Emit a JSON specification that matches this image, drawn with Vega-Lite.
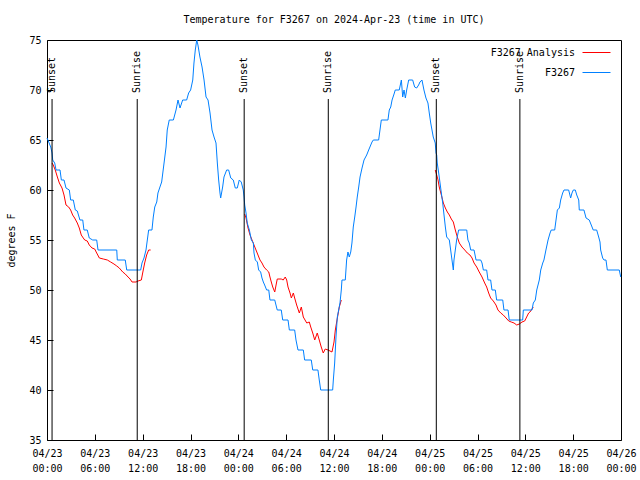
{
  "$schema": "https://vega.github.io/schema/vega-lite/v6.json",
  "width": 574,
  "height": 400,
  "autosize": {"type": "none"},
  "padding": {"left": 47, "top": 40, "right": 19, "bottom": 40},
  "background": "white",
  "title": {"text": "Temperature for F3267 on 2024-Apr-23 (time in UTC)", "font": "DejaVu Sans Mono", "fontSize": 10, "fontWeight": "normal", "color": "black", "anchor": "middle", "offset": 10},
  "config": {
    "view": {"stroke": "black", "strokeWidth": 1},
    "axis": {"domain": false, "grid": false, "labelFont": "DejaVu Sans Mono", "labelFontSize": 10, "labelColor": "black", "tickColor": "black", "titleFont": "DejaVu Sans Mono", "titleFontSize": 10, "titleFontWeight": "normal", "titleColor": "black"},
    "legend": {"labelFont": "DejaVu Sans Mono", "labelFontSize": 10, "labelColor": "black"}
  },
  "datasets": {
    "obs": [
      {"time": "2024-04-23T00:38:00Z", "temp": 62.7, "series": "F3267 Analysis", "run": "a1"},
      {"time": "2024-04-23T00:47:00Z", "temp": 62.5, "series": "F3267 Analysis", "run": "a1"},
      {"time": "2024-04-23T01:02:00Z", "temp": 62.0, "series": "F3267 Analysis", "run": "a1"},
      {"time": "2024-04-23T01:18:00Z", "temp": 61.3, "series": "F3267 Analysis", "run": "a1"},
      {"time": "2024-04-23T01:33:00Z", "temp": 60.7, "series": "F3267 Analysis", "run": "a1"},
      {"time": "2024-04-23T01:53:00Z", "temp": 60.2, "series": "F3267 Analysis", "run": "a1"},
      {"time": "2024-04-23T02:08:00Z", "temp": 59.5, "series": "F3267 Analysis", "run": "a1"},
      {"time": "2024-04-23T02:23:00Z", "temp": 58.5, "series": "F3267 Analysis", "run": "a1"},
      {"time": "2024-04-23T02:43:00Z", "temp": 58.3, "series": "F3267 Analysis", "run": "a1"},
      {"time": "2024-04-23T02:58:00Z", "temp": 58.0, "series": "F3267 Analysis", "run": "a1"},
      {"time": "2024-04-23T03:13:00Z", "temp": 57.5, "series": "F3267 Analysis", "run": "a1"},
      {"time": "2024-04-23T03:28:00Z", "temp": 57.2, "series": "F3267 Analysis", "run": "a1"},
      {"time": "2024-04-23T03:48:00Z", "temp": 56.7, "series": "F3267 Analysis", "run": "a1"},
      {"time": "2024-04-23T04:03:00Z", "temp": 56.2, "series": "F3267 Analysis", "run": "a1"},
      {"time": "2024-04-23T04:18:00Z", "temp": 55.5, "series": "F3267 Analysis", "run": "a1"},
      {"time": "2024-04-23T04:33:00Z", "temp": 55.2, "series": "F3267 Analysis", "run": "a1"},
      {"time": "2024-04-23T04:44:00Z", "temp": 55.0, "series": "F3267 Analysis", "run": "a1"},
      {"time": "2024-04-23T05:03:00Z", "temp": 54.9, "series": "F3267 Analysis", "run": "a1"},
      {"time": "2024-04-23T05:18:00Z", "temp": 54.5, "series": "F3267 Analysis", "run": "a1"},
      {"time": "2024-04-23T05:39:00Z", "temp": 54.2, "series": "F3267 Analysis", "run": "a1"},
      {"time": "2024-04-23T05:59:00Z", "temp": 54.1, "series": "F3267 Analysis", "run": "a1"},
      {"time": "2024-04-23T06:14:00Z", "temp": 53.7, "series": "F3267 Analysis", "run": "a1"},
      {"time": "2024-04-23T06:34:00Z", "temp": 53.2, "series": "F3267 Analysis", "run": "a1"},
      {"time": "2024-04-23T07:04:00Z", "temp": 53.1, "series": "F3267 Analysis", "run": "a1"},
      {"time": "2024-04-23T07:34:00Z", "temp": 53.0, "series": "F3267 Analysis", "run": "a1"},
      {"time": "2024-04-23T07:59:00Z", "temp": 52.8, "series": "F3267 Analysis", "run": "a1"},
      {"time": "2024-04-23T08:24:00Z", "temp": 52.6, "series": "F3267 Analysis", "run": "a1"},
      {"time": "2024-04-23T08:45:00Z", "temp": 52.4, "series": "F3267 Analysis", "run": "a1"},
      {"time": "2024-04-23T09:04:00Z", "temp": 52.2, "series": "F3267 Analysis", "run": "a1"},
      {"time": "2024-04-23T09:30:00Z", "temp": 51.8, "series": "F3267 Analysis", "run": "a1"},
      {"time": "2024-04-23T09:49:00Z", "temp": 51.6, "series": "F3267 Analysis", "run": "a1"},
      {"time": "2024-04-23T10:10:00Z", "temp": 51.3, "series": "F3267 Analysis", "run": "a1"},
      {"time": "2024-04-23T10:25:00Z", "temp": 51.1, "series": "F3267 Analysis", "run": "a1"},
      {"time": "2024-04-23T10:40:00Z", "temp": 50.8, "series": "F3267 Analysis", "run": "a1"},
      {"time": "2024-04-23T11:10:00Z", "temp": 50.8, "series": "F3267 Analysis", "run": "a1"},
      {"time": "2024-04-23T11:25:00Z", "temp": 50.9, "series": "F3267 Analysis", "run": "a1"},
      {"time": "2024-04-23T11:50:00Z", "temp": 51.0, "series": "F3267 Analysis", "run": "a1"},
      {"time": "2024-04-23T12:00:00Z", "temp": 51.7, "series": "F3267 Analysis", "run": "a1"},
      {"time": "2024-04-23T12:15:00Z", "temp": 52.7, "series": "F3267 Analysis", "run": "a1"},
      {"time": "2024-04-23T12:30:00Z", "temp": 53.5, "series": "F3267 Analysis", "run": "a1"},
      {"time": "2024-04-23T12:45:00Z", "temp": 54.0, "series": "F3267 Analysis", "run": "a1"},
      {"time": "2024-04-23T13:00:00Z", "temp": 54.0, "series": "F3267 Analysis", "run": "a1"},
      {"time": "2024-04-24T00:48:00Z", "temp": 57.6, "series": "F3267 Analysis", "run": "a2"},
      {"time": "2024-04-24T00:58:00Z", "temp": 57.2, "series": "F3267 Analysis", "run": "a2"},
      {"time": "2024-04-24T01:13:00Z", "temp": 56.2, "series": "F3267 Analysis", "run": "a2"},
      {"time": "2024-04-24T01:28:00Z", "temp": 55.5, "series": "F3267 Analysis", "run": "a2"},
      {"time": "2024-04-24T01:43:00Z", "temp": 55.0, "series": "F3267 Analysis", "run": "a2"},
      {"time": "2024-04-24T01:58:00Z", "temp": 54.5, "series": "F3267 Analysis", "run": "a2"},
      {"time": "2024-04-24T02:13:00Z", "temp": 54.0, "series": "F3267 Analysis", "run": "a2"},
      {"time": "2024-04-24T02:28:00Z", "temp": 53.5, "series": "F3267 Analysis", "run": "a2"},
      {"time": "2024-04-24T02:43:00Z", "temp": 53.0, "series": "F3267 Analysis", "run": "a2"},
      {"time": "2024-04-24T02:58:00Z", "temp": 52.7, "series": "F3267 Analysis", "run": "a2"},
      {"time": "2024-04-24T03:13:00Z", "temp": 52.3, "series": "F3267 Analysis", "run": "a2"},
      {"time": "2024-04-24T03:33:00Z", "temp": 52.0, "series": "F3267 Analysis", "run": "a2"},
      {"time": "2024-04-24T03:49:00Z", "temp": 51.8, "series": "F3267 Analysis", "run": "a2"},
      {"time": "2024-04-24T03:58:00Z", "temp": 51.3, "series": "F3267 Analysis", "run": "a2"},
      {"time": "2024-04-24T04:08:00Z", "temp": 50.8, "series": "F3267 Analysis", "run": "a2"},
      {"time": "2024-04-24T04:19:00Z", "temp": 50.3, "series": "F3267 Analysis", "run": "a2"},
      {"time": "2024-04-24T04:34:00Z", "temp": 49.8, "series": "F3267 Analysis", "run": "a2"},
      {"time": "2024-04-24T04:44:00Z", "temp": 50.5, "series": "F3267 Analysis", "run": "a2"},
      {"time": "2024-04-24T04:53:00Z", "temp": 51.1, "series": "F3267 Analysis", "run": "a2"},
      {"time": "2024-04-24T05:23:00Z", "temp": 51.1, "series": "F3267 Analysis", "run": "a2"},
      {"time": "2024-04-24T05:38:00Z", "temp": 51.0, "series": "F3267 Analysis", "run": "a2"},
      {"time": "2024-04-24T05:53:00Z", "temp": 51.3, "series": "F3267 Analysis", "run": "a2"},
      {"time": "2024-04-24T06:04:00Z", "temp": 51.0, "series": "F3267 Analysis", "run": "a2"},
      {"time": "2024-04-24T06:14:00Z", "temp": 50.3, "series": "F3267 Analysis", "run": "a2"},
      {"time": "2024-04-24T06:29:00Z", "temp": 49.7, "series": "F3267 Analysis", "run": "a2"},
      {"time": "2024-04-24T06:39:00Z", "temp": 49.2, "series": "F3267 Analysis", "run": "a2"},
      {"time": "2024-04-24T06:54:00Z", "temp": 49.7, "series": "F3267 Analysis", "run": "a2"},
      {"time": "2024-04-24T07:04:00Z", "temp": 49.2, "series": "F3267 Analysis", "run": "a2"},
      {"time": "2024-04-24T07:19:00Z", "temp": 48.5, "series": "F3267 Analysis", "run": "a2"},
      {"time": "2024-04-24T07:39:00Z", "temp": 47.7, "series": "F3267 Analysis", "run": "a2"},
      {"time": "2024-04-24T07:54:00Z", "temp": 48.3, "series": "F3267 Analysis", "run": "a2"},
      {"time": "2024-04-24T08:09:00Z", "temp": 47.3, "series": "F3267 Analysis", "run": "a2"},
      {"time": "2024-04-24T08:35:00Z", "temp": 46.7, "series": "F3267 Analysis", "run": "a2"},
      {"time": "2024-04-24T08:54:00Z", "temp": 46.8, "series": "F3267 Analysis", "run": "a2"},
      {"time": "2024-04-24T09:05:00Z", "temp": 46.3, "series": "F3267 Analysis", "run": "a2"},
      {"time": "2024-04-24T09:20:00Z", "temp": 45.7, "series": "F3267 Analysis", "run": "a2"},
      {"time": "2024-04-24T09:35:00Z", "temp": 45.0, "series": "F3267 Analysis", "run": "a2"},
      {"time": "2024-04-24T09:54:00Z", "temp": 45.7, "series": "F3267 Analysis", "run": "a2"},
      {"time": "2024-04-24T10:09:00Z", "temp": 45.0, "series": "F3267 Analysis", "run": "a2"},
      {"time": "2024-04-24T10:24:00Z", "temp": 44.3, "series": "F3267 Analysis", "run": "a2"},
      {"time": "2024-04-24T10:39:00Z", "temp": 43.7, "series": "F3267 Analysis", "run": "a2"},
      {"time": "2024-04-24T10:54:00Z", "temp": 44.1, "series": "F3267 Analysis", "run": "a2"},
      {"time": "2024-04-24T11:15:00Z", "temp": 44.0, "series": "F3267 Analysis", "run": "a2"},
      {"time": "2024-04-24T11:45:00Z", "temp": 43.8, "series": "F3267 Analysis", "run": "a2"},
      {"time": "2024-04-24T12:00:00Z", "temp": 44.8, "series": "F3267 Analysis", "run": "a2"},
      {"time": "2024-04-24T12:10:00Z", "temp": 46.0, "series": "F3267 Analysis", "run": "a2"},
      {"time": "2024-04-24T12:20:00Z", "temp": 46.8, "series": "F3267 Analysis", "run": "a2"},
      {"time": "2024-04-24T12:40:00Z", "temp": 48.3, "series": "F3267 Analysis", "run": "a2"},
      {"time": "2024-04-24T12:55:00Z", "temp": 49.0, "series": "F3267 Analysis", "run": "a2"},
      {"time": "2024-04-25T00:42:00Z", "temp": 62.0, "series": "F3267 Analysis", "run": "a3"},
      {"time": "2024-04-25T00:53:00Z", "temp": 61.5, "series": "F3267 Analysis", "run": "a3"},
      {"time": "2024-04-25T01:03:00Z", "temp": 61.0, "series": "F3267 Analysis", "run": "a3"},
      {"time": "2024-04-25T01:12:00Z", "temp": 60.3, "series": "F3267 Analysis", "run": "a3"},
      {"time": "2024-04-25T01:28:00Z", "temp": 59.5, "series": "F3267 Analysis", "run": "a3"},
      {"time": "2024-04-25T01:43:00Z", "temp": 58.7, "series": "F3267 Analysis", "run": "a3"},
      {"time": "2024-04-25T01:58:00Z", "temp": 58.2, "series": "F3267 Analysis", "run": "a3"},
      {"time": "2024-04-25T02:13:00Z", "temp": 57.8, "series": "F3267 Analysis", "run": "a3"},
      {"time": "2024-04-25T02:28:00Z", "temp": 57.5, "series": "F3267 Analysis", "run": "a3"},
      {"time": "2024-04-25T02:43:00Z", "temp": 57.1, "series": "F3267 Analysis", "run": "a3"},
      {"time": "2024-04-25T02:58:00Z", "temp": 56.8, "series": "F3267 Analysis", "run": "a3"},
      {"time": "2024-04-25T03:13:00Z", "temp": 56.0, "series": "F3267 Analysis", "run": "a3"},
      {"time": "2024-04-25T03:28:00Z", "temp": 55.3, "series": "F3267 Analysis", "run": "a3"},
      {"time": "2024-04-25T03:43:00Z", "temp": 54.7, "series": "F3267 Analysis", "run": "a3"},
      {"time": "2024-04-25T04:03:00Z", "temp": 54.3, "series": "F3267 Analysis", "run": "a3"},
      {"time": "2024-04-25T04:24:00Z", "temp": 54.0, "series": "F3267 Analysis", "run": "a3"},
      {"time": "2024-04-25T04:43:00Z", "temp": 53.7, "series": "F3267 Analysis", "run": "a3"},
      {"time": "2024-04-25T05:03:00Z", "temp": 53.5, "series": "F3267 Analysis", "run": "a3"},
      {"time": "2024-04-25T05:19:00Z", "temp": 53.2, "series": "F3267 Analysis", "run": "a3"},
      {"time": "2024-04-25T05:34:00Z", "temp": 52.7, "series": "F3267 Analysis", "run": "a3"},
      {"time": "2024-04-25T05:54:00Z", "temp": 52.3, "series": "F3267 Analysis", "run": "a3"},
      {"time": "2024-04-25T06:13:00Z", "temp": 51.8, "series": "F3267 Analysis", "run": "a3"},
      {"time": "2024-04-25T06:34:00Z", "temp": 51.3, "series": "F3267 Analysis", "run": "a3"},
      {"time": "2024-04-25T06:54:00Z", "temp": 50.7, "series": "F3267 Analysis", "run": "a3"},
      {"time": "2024-04-25T07:09:00Z", "temp": 50.3, "series": "F3267 Analysis", "run": "a3"},
      {"time": "2024-04-25T07:24:00Z", "temp": 49.7, "series": "F3267 Analysis", "run": "a3"},
      {"time": "2024-04-25T07:39:00Z", "temp": 49.2, "series": "F3267 Analysis", "run": "a3"},
      {"time": "2024-04-25T07:59:00Z", "temp": 48.9, "series": "F3267 Analysis", "run": "a3"},
      {"time": "2024-04-25T08:19:00Z", "temp": 48.5, "series": "F3267 Analysis", "run": "a3"},
      {"time": "2024-04-25T08:34:00Z", "temp": 48.0, "series": "F3267 Analysis", "run": "a3"},
      {"time": "2024-04-25T08:55:00Z", "temp": 47.7, "series": "F3267 Analysis", "run": "a3"},
      {"time": "2024-04-25T09:14:00Z", "temp": 47.5, "series": "F3267 Analysis", "run": "a3"},
      {"time": "2024-04-25T09:35:00Z", "temp": 47.2, "series": "F3267 Analysis", "run": "a3"},
      {"time": "2024-04-25T09:55:00Z", "temp": 46.9, "series": "F3267 Analysis", "run": "a3"},
      {"time": "2024-04-25T10:14:00Z", "temp": 46.8, "series": "F3267 Analysis", "run": "a3"},
      {"time": "2024-04-25T10:35:00Z", "temp": 46.7, "series": "F3267 Analysis", "run": "a3"},
      {"time": "2024-04-25T10:55:00Z", "temp": 46.5, "series": "F3267 Analysis", "run": "a3"},
      {"time": "2024-04-25T11:15:00Z", "temp": 46.6, "series": "F3267 Analysis", "run": "a3"},
      {"time": "2024-04-25T11:35:00Z", "temp": 46.8, "series": "F3267 Analysis", "run": "a3"},
      {"time": "2024-04-25T11:55:00Z", "temp": 46.9, "series": "F3267 Analysis", "run": "a3"},
      {"time": "2024-04-25T12:10:00Z", "temp": 47.3, "series": "F3267 Analysis", "run": "a3"},
      {"time": "2024-04-25T12:25:00Z", "temp": 47.7, "series": "F3267 Analysis", "run": "a3"},
      {"time": "2024-04-25T12:35:00Z", "temp": 47.8, "series": "F3267 Analysis", "run": "a3"},
      {"time": "2024-04-25T13:00:00Z", "temp": 48.3, "series": "F3267 Analysis", "run": "a3"},
      {"time": "2024-04-23T00:00:00Z", "temp": 65.2, "series": "F3267", "run": "obs"},
      {"time": "2024-04-23T00:13:00Z", "temp": 64.8, "series": "F3267", "run": "obs"},
      {"time": "2024-04-23T00:28:00Z", "temp": 64.3, "series": "F3267", "run": "obs"},
      {"time": "2024-04-23T00:38:00Z", "temp": 63.7, "series": "F3267", "run": "obs"},
      {"time": "2024-04-23T00:43:00Z", "temp": 63.0, "series": "F3267", "run": "obs"},
      {"time": "2024-04-23T00:58:00Z", "temp": 62.7, "series": "F3267", "run": "obs"},
      {"time": "2024-04-23T01:08:00Z", "temp": 62.0, "series": "F3267", "run": "obs"},
      {"time": "2024-04-23T01:38:00Z", "temp": 62.0, "series": "F3267", "run": "obs"},
      {"time": "2024-04-23T01:48:00Z", "temp": 61.0, "series": "F3267", "run": "obs"},
      {"time": "2024-04-23T02:08:00Z", "temp": 61.0, "series": "F3267", "run": "obs"},
      {"time": "2024-04-23T02:23:00Z", "temp": 60.2, "series": "F3267", "run": "obs"},
      {"time": "2024-04-23T02:48:00Z", "temp": 60.0, "series": "F3267", "run": "obs"},
      {"time": "2024-04-23T02:58:00Z", "temp": 59.0, "series": "F3267", "run": "obs"},
      {"time": "2024-04-23T03:18:00Z", "temp": 59.0, "series": "F3267", "run": "obs"},
      {"time": "2024-04-23T03:33:00Z", "temp": 58.0, "series": "F3267", "run": "obs"},
      {"time": "2024-04-23T03:48:00Z", "temp": 57.9, "series": "F3267", "run": "obs"},
      {"time": "2024-04-23T04:08:00Z", "temp": 57.0, "series": "F3267", "run": "obs"},
      {"time": "2024-04-23T04:29:00Z", "temp": 57.0, "series": "F3267", "run": "obs"},
      {"time": "2024-04-23T04:38:00Z", "temp": 56.0, "series": "F3267", "run": "obs"},
      {"time": "2024-04-23T05:03:00Z", "temp": 56.0, "series": "F3267", "run": "obs"},
      {"time": "2024-04-23T05:18:00Z", "temp": 55.2, "series": "F3267", "run": "obs"},
      {"time": "2024-04-23T05:44:00Z", "temp": 55.0, "series": "F3267", "run": "obs"},
      {"time": "2024-04-23T06:14:00Z", "temp": 55.0, "series": "F3267", "run": "obs"},
      {"time": "2024-04-23T06:24:00Z", "temp": 54.0, "series": "F3267", "run": "obs"},
      {"time": "2024-04-23T08:45:00Z", "temp": 54.0, "series": "F3267", "run": "obs"},
      {"time": "2024-04-23T08:49:00Z", "temp": 53.0, "series": "F3267", "run": "obs"},
      {"time": "2024-04-23T09:49:00Z", "temp": 53.0, "series": "F3267", "run": "obs"},
      {"time": "2024-04-23T10:00:00Z", "temp": 52.0, "series": "F3267", "run": "obs"},
      {"time": "2024-04-23T11:45:00Z", "temp": 52.0, "series": "F3267", "run": "obs"},
      {"time": "2024-04-23T11:55:00Z", "temp": 52.7, "series": "F3267", "run": "obs"},
      {"time": "2024-04-23T12:10:00Z", "temp": 53.2, "series": "F3267", "run": "obs"},
      {"time": "2024-04-23T12:25:00Z", "temp": 54.0, "series": "F3267", "run": "obs"},
      {"time": "2024-04-23T12:45:00Z", "temp": 56.0, "series": "F3267", "run": "obs"},
      {"time": "2024-04-23T13:10:00Z", "temp": 56.0, "series": "F3267", "run": "obs"},
      {"time": "2024-04-23T13:20:00Z", "temp": 57.3, "series": "F3267", "run": "obs"},
      {"time": "2024-04-23T13:31:00Z", "temp": 58.3, "series": "F3267", "run": "obs"},
      {"time": "2024-04-23T13:46:00Z", "temp": 58.8, "series": "F3267", "run": "obs"},
      {"time": "2024-04-23T13:55:00Z", "temp": 59.7, "series": "F3267", "run": "obs"},
      {"time": "2024-04-23T14:10:00Z", "temp": 60.3, "series": "F3267", "run": "obs"},
      {"time": "2024-04-23T14:23:00Z", "temp": 60.8, "series": "F3267", "run": "obs"},
      {"time": "2024-04-23T14:41:00Z", "temp": 62.7, "series": "F3267", "run": "obs"},
      {"time": "2024-04-23T14:56:00Z", "temp": 64.3, "series": "F3267", "run": "obs"},
      {"time": "2024-04-23T15:05:00Z", "temp": 66.0, "series": "F3267", "run": "obs"},
      {"time": "2024-04-23T15:20:00Z", "temp": 67.0, "series": "F3267", "run": "obs"},
      {"time": "2024-04-23T15:51:00Z", "temp": 67.0, "series": "F3267", "run": "obs"},
      {"time": "2024-04-23T16:11:00Z", "temp": 68.0, "series": "F3267", "run": "obs"},
      {"time": "2024-04-23T16:26:00Z", "temp": 69.0, "series": "F3267", "run": "obs"},
      {"time": "2024-04-23T16:41:00Z", "temp": 68.2, "series": "F3267", "run": "obs"},
      {"time": "2024-04-23T17:01:00Z", "temp": 69.0, "series": "F3267", "run": "obs"},
      {"time": "2024-04-23T17:31:00Z", "temp": 69.0, "series": "F3267", "run": "obs"},
      {"time": "2024-04-23T17:46:00Z", "temp": 69.7, "series": "F3267", "run": "obs"},
      {"time": "2024-04-23T18:01:00Z", "temp": 70.0, "series": "F3267", "run": "obs"},
      {"time": "2024-04-23T18:17:00Z", "temp": 71.0, "series": "F3267", "run": "obs"},
      {"time": "2024-04-23T18:26:00Z", "temp": 72.7, "series": "F3267", "run": "obs"},
      {"time": "2024-04-23T18:36:00Z", "temp": 74.0, "series": "F3267", "run": "obs"},
      {"time": "2024-04-23T18:47:00Z", "temp": 75.0, "series": "F3267", "run": "obs"},
      {"time": "2024-04-23T18:56:00Z", "temp": 74.5, "series": "F3267", "run": "obs"},
      {"time": "2024-04-23T19:11:00Z", "temp": 73.3, "series": "F3267", "run": "obs"},
      {"time": "2024-04-23T19:27:00Z", "temp": 72.3, "series": "F3267", "run": "obs"},
      {"time": "2024-04-23T19:42:00Z", "temp": 71.0, "series": "F3267", "run": "obs"},
      {"time": "2024-04-23T19:57:00Z", "temp": 69.3, "series": "F3267", "run": "obs"},
      {"time": "2024-04-23T20:12:00Z", "temp": 69.0, "series": "F3267", "run": "obs"},
      {"time": "2024-04-23T20:27:00Z", "temp": 67.7, "series": "F3267", "run": "obs"},
      {"time": "2024-04-23T20:42:00Z", "temp": 66.0, "series": "F3267", "run": "obs"},
      {"time": "2024-04-23T20:57:00Z", "temp": 65.3, "series": "F3267", "run": "obs"},
      {"time": "2024-04-23T21:12:00Z", "temp": 64.7, "series": "F3267", "run": "obs"},
      {"time": "2024-04-23T21:22:00Z", "temp": 62.7, "series": "F3267", "run": "obs"},
      {"time": "2024-04-23T21:32:00Z", "temp": 61.0, "series": "F3267", "run": "obs"},
      {"time": "2024-04-23T21:42:00Z", "temp": 59.7, "series": "F3267", "run": "obs"},
      {"time": "2024-04-23T21:47:00Z", "temp": 59.2, "series": "F3267", "run": "obs"},
      {"time": "2024-04-23T22:02:00Z", "temp": 60.3, "series": "F3267", "run": "obs"},
      {"time": "2024-04-23T22:12:00Z", "temp": 61.3, "series": "F3267", "run": "obs"},
      {"time": "2024-04-23T22:32:00Z", "temp": 62.0, "series": "F3267", "run": "obs"},
      {"time": "2024-04-23T22:47:00Z", "temp": 62.0, "series": "F3267", "run": "obs"},
      {"time": "2024-04-23T23:03:00Z", "temp": 61.2, "series": "F3267", "run": "obs"},
      {"time": "2024-04-23T23:22:00Z", "temp": 61.0, "series": "F3267", "run": "obs"},
      {"time": "2024-04-23T23:37:00Z", "temp": 60.2, "series": "F3267", "run": "obs"},
      {"time": "2024-04-23T23:52:00Z", "temp": 60.2, "series": "F3267", "run": "obs"},
      {"time": "2024-04-24T00:07:00Z", "temp": 61.0, "series": "F3267", "run": "obs"},
      {"time": "2024-04-24T00:22:00Z", "temp": 60.8, "series": "F3267", "run": "obs"},
      {"time": "2024-04-24T00:37:00Z", "temp": 60.0, "series": "F3267", "run": "obs"},
      {"time": "2024-04-24T00:43:00Z", "temp": 59.3, "series": "F3267", "run": "obs"},
      {"time": "2024-04-24T00:48:00Z", "temp": 58.5, "series": "F3267", "run": "obs"},
      {"time": "2024-04-24T00:58:00Z", "temp": 57.7, "series": "F3267", "run": "obs"},
      {"time": "2024-04-24T01:07:00Z", "temp": 56.7, "series": "F3267", "run": "obs"},
      {"time": "2024-04-24T01:23:00Z", "temp": 56.0, "series": "F3267", "run": "obs"},
      {"time": "2024-04-24T01:38:00Z", "temp": 55.0, "series": "F3267", "run": "obs"},
      {"time": "2024-04-24T01:53:00Z", "temp": 54.7, "series": "F3267", "run": "obs"},
      {"time": "2024-04-24T01:58:00Z", "temp": 53.7, "series": "F3267", "run": "obs"},
      {"time": "2024-04-24T02:08:00Z", "temp": 53.0, "series": "F3267", "run": "obs"},
      {"time": "2024-04-24T02:23:00Z", "temp": 52.8, "series": "F3267", "run": "obs"},
      {"time": "2024-04-24T02:33:00Z", "temp": 52.0, "series": "F3267", "run": "obs"},
      {"time": "2024-04-24T02:48:00Z", "temp": 51.8, "series": "F3267", "run": "obs"},
      {"time": "2024-04-24T02:58:00Z", "temp": 51.2, "series": "F3267", "run": "obs"},
      {"time": "2024-04-24T03:08:00Z", "temp": 50.8, "series": "F3267", "run": "obs"},
      {"time": "2024-04-24T03:18:00Z", "temp": 50.5, "series": "F3267", "run": "obs"},
      {"time": "2024-04-24T03:33:00Z", "temp": 50.0, "series": "F3267", "run": "obs"},
      {"time": "2024-04-24T03:49:00Z", "temp": 50.0, "series": "F3267", "run": "obs"},
      {"time": "2024-04-24T03:58:00Z", "temp": 49.0, "series": "F3267", "run": "obs"},
      {"time": "2024-04-24T04:34:00Z", "temp": 49.0, "series": "F3267", "run": "obs"},
      {"time": "2024-04-24T04:49:00Z", "temp": 48.2, "series": "F3267", "run": "obs"},
      {"time": "2024-04-24T04:53:00Z", "temp": 48.0, "series": "F3267", "run": "obs"},
      {"time": "2024-04-24T05:23:00Z", "temp": 48.0, "series": "F3267", "run": "obs"},
      {"time": "2024-04-24T05:34:00Z", "temp": 47.0, "series": "F3267", "run": "obs"},
      {"time": "2024-04-24T06:14:00Z", "temp": 47.0, "series": "F3267", "run": "obs"},
      {"time": "2024-04-24T06:24:00Z", "temp": 46.0, "series": "F3267", "run": "obs"},
      {"time": "2024-04-24T07:04:00Z", "temp": 46.0, "series": "F3267", "run": "obs"},
      {"time": "2024-04-24T07:14:00Z", "temp": 45.0, "series": "F3267", "run": "obs"},
      {"time": "2024-04-24T07:29:00Z", "temp": 44.0, "series": "F3267", "run": "obs"},
      {"time": "2024-04-24T08:09:00Z", "temp": 44.0, "series": "F3267", "run": "obs"},
      {"time": "2024-04-24T08:19:00Z", "temp": 43.0, "series": "F3267", "run": "obs"},
      {"time": "2024-04-24T09:09:00Z", "temp": 43.0, "series": "F3267", "run": "obs"},
      {"time": "2024-04-24T09:20:00Z", "temp": 42.0, "series": "F3267", "run": "obs"},
      {"time": "2024-04-24T09:59:00Z", "temp": 42.0, "series": "F3267", "run": "obs"},
      {"time": "2024-04-24T10:09:00Z", "temp": 41.0, "series": "F3267", "run": "obs"},
      {"time": "2024-04-24T10:20:00Z", "temp": 40.0, "series": "F3267", "run": "obs"},
      {"time": "2024-04-24T11:50:00Z", "temp": 40.0, "series": "F3267", "run": "obs"},
      {"time": "2024-04-24T11:55:00Z", "temp": 41.0, "series": "F3267", "run": "obs"},
      {"time": "2024-04-24T12:05:00Z", "temp": 42.7, "series": "F3267", "run": "obs"},
      {"time": "2024-04-24T12:15:00Z", "temp": 45.3, "series": "F3267", "run": "obs"},
      {"time": "2024-04-24T12:25:00Z", "temp": 47.3, "series": "F3267", "run": "obs"},
      {"time": "2024-04-24T12:35:00Z", "temp": 48.0, "series": "F3267", "run": "obs"},
      {"time": "2024-04-24T12:45:00Z", "temp": 48.7, "series": "F3267", "run": "obs"},
      {"time": "2024-04-24T12:55:00Z", "temp": 50.0, "series": "F3267", "run": "obs"},
      {"time": "2024-04-24T13:00:00Z", "temp": 51.0, "series": "F3267", "run": "obs"},
      {"time": "2024-04-24T13:25:00Z", "temp": 51.0, "series": "F3267", "run": "obs"},
      {"time": "2024-04-24T13:35:00Z", "temp": 53.0, "series": "F3267", "run": "obs"},
      {"time": "2024-04-24T13:45:00Z", "temp": 53.8, "series": "F3267", "run": "obs"},
      {"time": "2024-04-24T13:55:00Z", "temp": 53.3, "series": "F3267", "run": "obs"},
      {"time": "2024-04-24T14:06:00Z", "temp": 53.8, "series": "F3267", "run": "obs"},
      {"time": "2024-04-24T14:15:00Z", "temp": 54.7, "series": "F3267", "run": "obs"},
      {"time": "2024-04-24T14:25:00Z", "temp": 56.3, "series": "F3267", "run": "obs"},
      {"time": "2024-04-24T14:36:00Z", "temp": 57.3, "series": "F3267", "run": "obs"},
      {"time": "2024-04-24T14:46:00Z", "temp": 58.3, "series": "F3267", "run": "obs"},
      {"time": "2024-04-24T14:55:00Z", "temp": 59.3, "series": "F3267", "run": "obs"},
      {"time": "2024-04-24T15:06:00Z", "temp": 60.3, "series": "F3267", "run": "obs"},
      {"time": "2024-04-24T15:16:00Z", "temp": 61.3, "series": "F3267", "run": "obs"},
      {"time": "2024-04-24T15:31:00Z", "temp": 62.2, "series": "F3267", "run": "obs"},
      {"time": "2024-04-24T15:46:00Z", "temp": 63.0, "series": "F3267", "run": "obs"},
      {"time": "2024-04-24T16:06:00Z", "temp": 63.5, "series": "F3267", "run": "obs"},
      {"time": "2024-04-24T16:21:00Z", "temp": 64.0, "series": "F3267", "run": "obs"},
      {"time": "2024-04-24T16:46:00Z", "temp": 64.8, "series": "F3267", "run": "obs"},
      {"time": "2024-04-24T16:56:00Z", "temp": 65.0, "series": "F3267", "run": "obs"},
      {"time": "2024-04-24T17:36:00Z", "temp": 65.0, "series": "F3267", "run": "obs"},
      {"time": "2024-04-24T17:46:00Z", "temp": 66.0, "series": "F3267", "run": "obs"},
      {"time": "2024-04-24T17:56:00Z", "temp": 67.0, "series": "F3267", "run": "obs"},
      {"time": "2024-04-24T18:46:00Z", "temp": 67.0, "series": "F3267", "run": "obs"},
      {"time": "2024-04-24T18:56:00Z", "temp": 68.0, "series": "F3267", "run": "obs"},
      {"time": "2024-04-24T19:07:00Z", "temp": 68.3, "series": "F3267", "run": "obs"},
      {"time": "2024-04-24T19:17:00Z", "temp": 69.0, "series": "F3267", "run": "obs"},
      {"time": "2024-04-24T19:32:00Z", "temp": 69.6, "series": "F3267", "run": "obs"},
      {"time": "2024-04-24T19:41:00Z", "temp": 70.0, "series": "F3267", "run": "obs"},
      {"time": "2024-04-24T20:11:00Z", "temp": 70.0, "series": "F3267", "run": "obs"},
      {"time": "2024-04-24T20:27:00Z", "temp": 71.0, "series": "F3267", "run": "obs"},
      {"time": "2024-04-24T20:37:00Z", "temp": 69.3, "series": "F3267", "run": "obs"},
      {"time": "2024-04-24T20:47:00Z", "temp": 70.0, "series": "F3267", "run": "obs"},
      {"time": "2024-04-24T20:57:00Z", "temp": 69.2, "series": "F3267", "run": "obs"},
      {"time": "2024-04-24T21:07:00Z", "temp": 70.0, "series": "F3267", "run": "obs"},
      {"time": "2024-04-24T21:22:00Z", "temp": 71.0, "series": "F3267", "run": "obs"},
      {"time": "2024-04-24T21:52:00Z", "temp": 71.0, "series": "F3267", "run": "obs"},
      {"time": "2024-04-24T22:07:00Z", "temp": 70.3, "series": "F3267", "run": "obs"},
      {"time": "2024-04-24T22:22:00Z", "temp": 70.2, "series": "F3267", "run": "obs"},
      {"time": "2024-04-24T22:37:00Z", "temp": 70.5, "series": "F3267", "run": "obs"},
      {"time": "2024-04-24T22:47:00Z", "temp": 70.8, "series": "F3267", "run": "obs"},
      {"time": "2024-04-24T23:02:00Z", "temp": 71.0, "series": "F3267", "run": "obs"},
      {"time": "2024-04-24T23:17:00Z", "temp": 70.0, "series": "F3267", "run": "obs"},
      {"time": "2024-04-24T23:32:00Z", "temp": 69.2, "series": "F3267", "run": "obs"},
      {"time": "2024-04-24T23:47:00Z", "temp": 68.7, "series": "F3267", "run": "obs"},
      {"time": "2024-04-24T23:57:00Z", "temp": 67.7, "series": "F3267", "run": "obs"},
      {"time": "2024-04-25T00:08:00Z", "temp": 66.7, "series": "F3267", "run": "obs"},
      {"time": "2024-04-25T00:27:00Z", "temp": 65.3, "series": "F3267", "run": "obs"},
      {"time": "2024-04-25T00:42:00Z", "temp": 64.7, "series": "F3267", "run": "obs"},
      {"time": "2024-04-25T00:48:00Z", "temp": 63.7, "series": "F3267", "run": "obs"},
      {"time": "2024-04-25T00:53:00Z", "temp": 63.5, "series": "F3267", "run": "obs"},
      {"time": "2024-04-25T00:57:00Z", "temp": 62.7, "series": "F3267", "run": "obs"},
      {"time": "2024-04-25T01:08:00Z", "temp": 61.7, "series": "F3267", "run": "obs"},
      {"time": "2024-04-25T01:18:00Z", "temp": 60.7, "series": "F3267", "run": "obs"},
      {"time": "2024-04-25T01:28:00Z", "temp": 59.7, "series": "F3267", "run": "obs"},
      {"time": "2024-04-25T01:38:00Z", "temp": 58.7, "series": "F3267", "run": "obs"},
      {"time": "2024-04-25T01:48:00Z", "temp": 57.5, "series": "F3267", "run": "obs"},
      {"time": "2024-04-25T01:58:00Z", "temp": 56.3, "series": "F3267", "run": "obs"},
      {"time": "2024-04-25T02:08:00Z", "temp": 55.3, "series": "F3267", "run": "obs"},
      {"time": "2024-04-25T02:28:00Z", "temp": 55.0, "series": "F3267", "run": "obs"},
      {"time": "2024-04-25T02:38:00Z", "temp": 54.0, "series": "F3267", "run": "obs"},
      {"time": "2024-04-25T02:48:00Z", "temp": 53.0, "series": "F3267", "run": "obs"},
      {"time": "2024-04-25T02:58:00Z", "temp": 52.0, "series": "F3267", "run": "obs"},
      {"time": "2024-04-25T03:03:00Z", "temp": 53.0, "series": "F3267", "run": "obs"},
      {"time": "2024-04-25T03:13:00Z", "temp": 54.0, "series": "F3267", "run": "obs"},
      {"time": "2024-04-25T03:23:00Z", "temp": 55.0, "series": "F3267", "run": "obs"},
      {"time": "2024-04-25T03:38:00Z", "temp": 56.0, "series": "F3267", "run": "obs"},
      {"time": "2024-04-25T04:39:00Z", "temp": 56.0, "series": "F3267", "run": "obs"},
      {"time": "2024-04-25T04:48:00Z", "temp": 55.0, "series": "F3267", "run": "obs"},
      {"time": "2024-04-25T04:58:00Z", "temp": 54.7, "series": "F3267", "run": "obs"},
      {"time": "2024-04-25T05:09:00Z", "temp": 54.0, "series": "F3267", "run": "obs"},
      {"time": "2024-04-25T05:34:00Z", "temp": 54.0, "series": "F3267", "run": "obs"},
      {"time": "2024-04-25T05:49:00Z", "temp": 53.0, "series": "F3267", "run": "obs"},
      {"time": "2024-04-25T06:24:00Z", "temp": 53.0, "series": "F3267", "run": "obs"},
      {"time": "2024-04-25T06:34:00Z", "temp": 52.7, "series": "F3267", "run": "obs"},
      {"time": "2024-04-25T06:44:00Z", "temp": 52.0, "series": "F3267", "run": "obs"},
      {"time": "2024-04-25T07:09:00Z", "temp": 52.0, "series": "F3267", "run": "obs"},
      {"time": "2024-04-25T07:19:00Z", "temp": 51.0, "series": "F3267", "run": "obs"},
      {"time": "2024-04-25T07:39:00Z", "temp": 51.0, "series": "F3267", "run": "obs"},
      {"time": "2024-04-25T07:49:00Z", "temp": 50.0, "series": "F3267", "run": "obs"},
      {"time": "2024-04-25T08:14:00Z", "temp": 50.0, "series": "F3267", "run": "obs"},
      {"time": "2024-04-25T08:24:00Z", "temp": 49.0, "series": "F3267", "run": "obs"},
      {"time": "2024-04-25T09:10:00Z", "temp": 49.0, "series": "F3267", "run": "obs"},
      {"time": "2024-04-25T09:19:00Z", "temp": 48.0, "series": "F3267", "run": "obs"},
      {"time": "2024-04-25T09:50:00Z", "temp": 48.0, "series": "F3267", "run": "obs"},
      {"time": "2024-04-25T09:59:00Z", "temp": 47.0, "series": "F3267", "run": "obs"},
      {"time": "2024-04-25T11:40:00Z", "temp": 47.0, "series": "F3267", "run": "obs"},
      {"time": "2024-04-25T11:45:00Z", "temp": 48.0, "series": "F3267", "run": "obs"},
      {"time": "2024-04-25T12:50:00Z", "temp": 48.0, "series": "F3267", "run": "obs"},
      {"time": "2024-04-25T13:00:00Z", "temp": 48.7, "series": "F3267", "run": "obs"},
      {"time": "2024-04-25T13:15:00Z", "temp": 49.0, "series": "F3267", "run": "obs"},
      {"time": "2024-04-25T13:26:00Z", "temp": 50.0, "series": "F3267", "run": "obs"},
      {"time": "2024-04-25T13:45:00Z", "temp": 51.0, "series": "F3267", "run": "obs"},
      {"time": "2024-04-25T13:56:00Z", "temp": 52.0, "series": "F3267", "run": "obs"},
      {"time": "2024-04-25T14:11:00Z", "temp": 52.7, "series": "F3267", "run": "obs"},
      {"time": "2024-04-25T14:20:00Z", "temp": 53.0, "series": "F3267", "run": "obs"},
      {"time": "2024-04-25T14:35:00Z", "temp": 54.0, "series": "F3267", "run": "obs"},
      {"time": "2024-04-25T14:51:00Z", "temp": 55.0, "series": "F3267", "run": "obs"},
      {"time": "2024-04-25T15:06:00Z", "temp": 55.7, "series": "F3267", "run": "obs"},
      {"time": "2024-04-25T15:15:00Z", "temp": 56.0, "series": "F3267", "run": "obs"},
      {"time": "2024-04-25T15:41:00Z", "temp": 56.0, "series": "F3267", "run": "obs"},
      {"time": "2024-04-25T15:51:00Z", "temp": 57.0, "series": "F3267", "run": "obs"},
      {"time": "2024-04-25T16:01:00Z", "temp": 58.0, "series": "F3267", "run": "obs"},
      {"time": "2024-04-25T16:16:00Z", "temp": 58.2, "series": "F3267", "run": "obs"},
      {"time": "2024-04-25T16:26:00Z", "temp": 59.0, "series": "F3267", "run": "obs"},
      {"time": "2024-04-25T16:41:00Z", "temp": 59.7, "series": "F3267", "run": "obs"},
      {"time": "2024-04-25T16:51:00Z", "temp": 60.0, "series": "F3267", "run": "obs"},
      {"time": "2024-04-25T17:26:00Z", "temp": 60.0, "series": "F3267", "run": "obs"},
      {"time": "2024-04-25T17:41:00Z", "temp": 59.2, "series": "F3267", "run": "obs"},
      {"time": "2024-04-25T17:51:00Z", "temp": 59.7, "series": "F3267", "run": "obs"},
      {"time": "2024-04-25T18:01:00Z", "temp": 60.0, "series": "F3267", "run": "obs"},
      {"time": "2024-04-25T18:16:00Z", "temp": 60.0, "series": "F3267", "run": "obs"},
      {"time": "2024-04-25T18:27:00Z", "temp": 59.5, "series": "F3267", "run": "obs"},
      {"time": "2024-04-25T18:42:00Z", "temp": 59.0, "series": "F3267", "run": "obs"},
      {"time": "2024-04-25T18:46:00Z", "temp": 58.0, "series": "F3267", "run": "obs"},
      {"time": "2024-04-25T19:21:00Z", "temp": 58.0, "series": "F3267", "run": "obs"},
      {"time": "2024-04-25T19:37:00Z", "temp": 57.2, "series": "F3267", "run": "obs"},
      {"time": "2024-04-25T20:01:00Z", "temp": 57.0, "series": "F3267", "run": "obs"},
      {"time": "2024-04-25T20:16:00Z", "temp": 56.5, "series": "F3267", "run": "obs"},
      {"time": "2024-04-25T20:31:00Z", "temp": 56.0, "series": "F3267", "run": "obs"},
      {"time": "2024-04-25T20:57:00Z", "temp": 56.0, "series": "F3267", "run": "obs"},
      {"time": "2024-04-25T21:12:00Z", "temp": 55.3, "series": "F3267", "run": "obs"},
      {"time": "2024-04-25T21:22:00Z", "temp": 54.8, "series": "F3267", "run": "obs"},
      {"time": "2024-04-25T21:27:00Z", "temp": 54.0, "series": "F3267", "run": "obs"},
      {"time": "2024-04-25T21:42:00Z", "temp": 53.2, "series": "F3267", "run": "obs"},
      {"time": "2024-04-25T21:52:00Z", "temp": 53.0, "series": "F3267", "run": "obs"},
      {"time": "2024-04-25T22:07:00Z", "temp": 53.0, "series": "F3267", "run": "obs"},
      {"time": "2024-04-25T22:17:00Z", "temp": 52.0, "series": "F3267", "run": "obs"},
      {"time": "2024-04-25T23:47:00Z", "temp": 52.0, "series": "F3267", "run": "obs"},
      {"time": "2024-04-25T23:58:00Z", "temp": 51.3, "series": "F3267", "run": "obs"}
    ],
    "sun": [
      {"time": "2024-04-23T00:38:00Z", "event": "Sunset"},
      {"time": "2024-04-23T11:19:00Z", "event": "Sunrise"},
      {"time": "2024-04-24T00:44:00Z", "event": "Sunset"},
      {"time": "2024-04-24T11:17:00Z", "event": "Sunrise"},
      {"time": "2024-04-25T00:50:00Z", "event": "Sunset"},
      {"time": "2024-04-25T11:19:00Z", "event": "Sunrise"}
    ]
  },
  "layer": [
    {
      "data": {"name": "obs"},
      "mark": {"type": "line", "strokeWidth": 1, "interpolate": "linear"},
      "encoding": {
        "x": {"field": "time", "type": "temporal", "scale": {"type": "utc", "domain": [{"year": 2024, "month": 4, "date": 23, "utc": true}, {"year": 2024, "month": 4, "date": 26, "utc": true}]}, "axis": {"title": null, "tickSize": -6, "labelPadding": 14, "labelLineHeight": 15, "labelBaseline": "top", "labelOverlap": false, "labelFlush": false, "labelExpr": "[utcFormat(datum.value, '%m/%d'), utcFormat(datum.value, '%H:%M')]", "values": [
          {"year": 2024, "month": 4, "date": 23, "hours": 0, "utc": true},
          {"year": 2024, "month": 4, "date": 23, "hours": 6, "utc": true},
          {"year": 2024, "month": 4, "date": 23, "hours": 12, "utc": true},
          {"year": 2024, "month": 4, "date": 23, "hours": 18, "utc": true},
          {"year": 2024, "month": 4, "date": 24, "hours": 0, "utc": true},
          {"year": 2024, "month": 4, "date": 24, "hours": 6, "utc": true},
          {"year": 2024, "month": 4, "date": 24, "hours": 12, "utc": true},
          {"year": 2024, "month": 4, "date": 24, "hours": 18, "utc": true},
          {"year": 2024, "month": 4, "date": 25, "hours": 0, "utc": true},
          {"year": 2024, "month": 4, "date": 25, "hours": 6, "utc": true},
          {"year": 2024, "month": 4, "date": 25, "hours": 12, "utc": true},
          {"year": 2024, "month": 4, "date": 25, "hours": 18, "utc": true},
          {"year": 2024, "month": 4, "date": 26, "hours": 0, "utc": true}
        ]}},
        "y": {"field": "temp", "type": "quantitative", "scale": {"domain": [35, 75], "nice": false, "zero": false}, "axis": {"title": "degrees F", "tickSize": -6, "labelPadding": 12, "titlePadding": 12, "values": [35, 40, 45, 50, 55, 60, 65, 70, 75]}},
        "color": {"field": "series", "type": "nominal", "scale": {"domain": ["F3267 Analysis", "F3267"], "range": ["#ff0000", "#0080ff"]}, "legend": {"title": null, "orient": "none", "legendX": 535, "legendY": -2, "padding": 0, "symbolType": "stroke", "symbolSize": 784, "symbolStrokeWidth": 1, "labelAlign": "right", "labelOffset": -36, "rowPadding": -9}},
        "detail": {"field": "run", "type": "nominal"}
      }
    },
    {
      "data": {"name": "sun"},
      "mark": {"type": "rule", "color": "black", "strokeWidth": 1},
      "encoding": {
        "x": {"field": "time", "type": "temporal"},
        "y": {"datum": 69.1, "type": "quantitative"},
        "y2": {"datum": 35}
      }
    },
    {
      "data": {"name": "sun"},
      "mark": {"type": "text", "angle": 270, "align": "left", "baseline": "middle", "font": "DejaVu Sans Mono", "fontSize": 10, "color": "black"},
      "encoding": {
        "x": {"field": "time", "type": "temporal"},
        "y": {"datum": 69.7, "type": "quantitative"},
        "text": {"field": "event", "type": "nominal"}
      }
    }
  ]
}
